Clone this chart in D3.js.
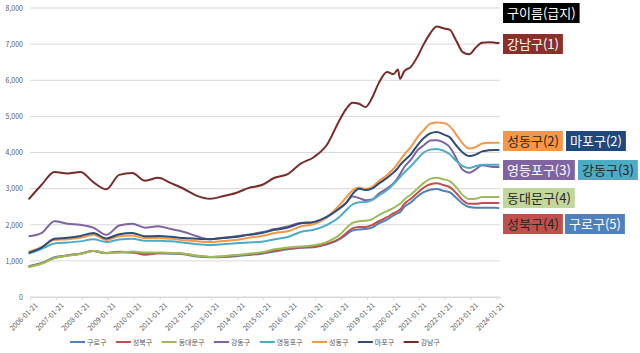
<!doctype html>
<html lang="ko">
<head>
  <meta charset="utf-8">
  <title>구별 아파트 평균가</title>
  <script src="https://d3js.org/d3.v7.min.js"></script>
  <style type="text/css">
    body { margin:0; background:#fff; }
    text { font-family:"Noto Sans CJK KR", "Noto Sans", sans-serif; }
    .grid line { stroke:#d9d9d9; stroke-width:1; }
    .axis text { fill:#595959; font-size:7px; }
    .series { fill:none; stroke-width:2; stroke-linejoin:round; }
  </style>
</head>
<body>
<script type="text/javascript">

  var dates = ["2006-01","2006-07","2007-01","2007-07","2008-01","2008-07","2009-01","2009-07",
    "2010-01","2010-07","2011-01","2011-07","2012-01","2012-07","2013-01","2013-07",
    "2014-01","2014-07","2015-01","2015-07","2016-01","2016-07","2017-01","2017-07",
    "2018-01","2018-04","2018-07","2018-10","2019-01","2019-04","2019-07","2019-11",
    "2020-02","2020-04","2020-05","2020-07","2020-10","2021-01","2021-04","2021-07","2021-10",
    "2022-01","2022-04","2022-07","2022-10","2023-01","2023-04","2023-07","2023-10",
    "2024-01","2024-03"];

  var guro = [850,940,1100,1150,1200,1270,1220,1240,1230,1210,1210,1200,1180,1120,1100,1110,
    1130,1160,1200,1260,1320,1360,1380,1450,1600,1720,1840,1870,1880,1920,2030,2140,
    2260,2320,2350,2500,2620,2780,2900,2970,2990,2940,2900,2750,2580,2490,2470,2470,2470,2470,2460];
  var seongbuk = [840,930,1080,1150,1200,1270,1210,1250,1240,1170,1210,1220,1200,1140,1110,1120,
    1150,1180,1220,1280,1340,1370,1390,1470,1620,1760,1900,1940,1940,1990,2090,2210,
    2320,2380,2420,2580,2720,2880,3030,3120,3150,3100,3040,2880,2680,2580,2580,2600,2600,2600,2600];
  var dongdaemun = [830,920,1080,1140,1190,1270,1220,1230,1260,1230,1230,1220,1200,1140,1110,1130,
    1160,1200,1240,1320,1370,1400,1430,1520,1720,1900,2050,2100,2110,2150,2260,2380,
    2470,2540,2580,2700,2840,3000,3160,3270,3300,3260,3210,3040,2820,2710,2720,2770,2770,2770,2770];
  var gangdong = [1680,1770,2100,2030,2000,1920,1720,1980,2030,1920,1960,1880,1800,1680,1600,1640,
    1680,1730,1790,1880,1950,2050,2040,2200,2470,2600,2780,2740,2680,2700,2850,3010,
    3150,3300,3400,3600,3800,4060,4200,4330,4340,4280,4150,3850,3520,3440,3530,3650,3620,3600,3600];
  var yeongdeungpo = [1200,1330,1480,1510,1540,1600,1520,1590,1610,1560,1560,1540,1500,1460,1440,1460,
    1490,1510,1530,1600,1660,1800,1860,1990,2220,2400,2560,2620,2630,2680,2800,2960,
    3130,3250,3320,3450,3620,3820,4000,4080,4100,4050,3950,3770,3620,3570,3620,3660,3660,3660,3660];
  var seongdong = [1250,1380,1580,1600,1640,1720,1580,1680,1700,1630,1630,1610,1570,1540,1520,1550,
    1580,1640,1690,1770,1820,1950,2020,2200,2550,2750,2950,3030,2990,3040,3200,3380,
    3550,3700,3780,3950,4150,4420,4620,4800,4830,4820,4730,4500,4250,4110,4150,4250,4270,4270,4270];
  var mapo = [1220,1370,1610,1640,1690,1770,1620,1740,1770,1680,1690,1670,1630,1610,1600,1630,
    1660,1720,1770,1860,1920,2040,2080,2220,2450,2600,2850,3000,2960,3000,3130,3300,
    3450,3570,3650,3780,3950,4200,4400,4530,4570,4500,4420,4200,4000,3900,3940,4030,4060,4070,4070];
  var gangnam = [2700,3100,3460,3420,3460,3180,2980,3380,3430,3220,3300,3150,2990,2800,2720,2790,
    2880,3020,3100,3300,3400,3690,3870,4200,4900,5200,5380,5350,5260,5500,5900,6230,
    6170,6300,6040,6250,6370,6650,7000,7300,7490,7440,7400,7100,6780,6720,6900,7040,7050,7040,7030];

  var names  = ["구로구","성북구","동대문구","강동구","영등포구","성동구","마포구","강남구"];
  var colors = ["#4f81bd","#c0504d","#9bbb59","#8064a2","#4bacc6","#f79646","#2c4d75","#772c2a"];
  var values = [guro, seongbuk, dongdaemun, gangdong, yeongdeungpo, seongdong, mapo, gangnam];

  var yTicks = [0,1000,2000,3000,4000,5000,6000,7000,8000];
  var xTickLabels = d3.range(2006, 2025).map(y => y + "-01-21");

  // label boxes on the right: text, fill, text colour, left, top
  var tags = [
    {t:"구이름(급지)", fill:"#000000", fg:"#ffffff", x:503, y:3},
    {t:"강남구(1)",   fill:"#8b2f2b", fg:"#ffffff", x:503, y:34},
    {t:"성동구(2)",   fill:"#f79646", fg:"#262626", x:503, y:131},
    {t:"마포구(2)",   fill:"#1f497d", fg:"#ffffff", x:566, y:131},
    {t:"영등포구(3)", fill:"#8064a2", fg:"#ffffff", x:503, y:160},
    {t:"강동구(3)",   fill:"#4bacc6", fg:"#262626", x:578, y:160},
    {t:"동대문구(4)", fill:"#c3d69b", fg:"#262626", x:503, y:188},
    {t:"성북구(4)",   fill:"#c0504d", fg:"#262626", x:503, y:214},
    {t:"구로구(5)",   fill:"#4f81bd", fg:"#ffffff", x:565, y:214}];

  var W = 640, H = 353;
  var margin = {left:30, top:8};
  var plotW = 470, plotH = 289;

  var parse = d3.timeParse("%Y-%m");
  var parseDay = d3.timeParse("%Y-%m-%d");

  var svg = d3.select("body").append("svg")
    .attr("width", W).attr("height", H)
    .style("background", "#fff");

  var g = svg.append("g").attr("transform", "translate(" + margin.left + "," + margin.top + ")");

  var xScale = d3.scaleTime()
    .domain([parseDay("2006-01-21"), parseDay("2024-03-10")])
    .range([0, plotW]);
  var yScale = d3.scaleLinear().domain([0, 8000]).range([plotH, 0]);

  // gridlines
  g.append("g").attr("class", "grid")
    .selectAll("line").data(yTicks).enter().append("line")
    .attr("x1", 0).attr("x2", plotW)
    .attr("y1", d => yScale(d)).attr("y2", d => yScale(d));

  // y axis labels
  var yAxis = d3.axisLeft(yScale).tickValues(yTicks).tickFormat(d3.format(",")).tickSize(0).tickPadding(7);
  g.append("g").attr("class", "axis").call(yAxis).call(s => s.select(".domain").remove());

  // x axis
  var xAxis = d3.axisBottom(xScale)
    .tickValues(xTickLabels.map(parseDay))
    .tickFormat(d3.timeFormat("%Y-%m-%d"))
    .tickSize(3).tickSizeOuter(0);
  var xg = g.append("g").attr("class", "axis")
    .attr("transform", "translate(0," + plotH + ")")
    .call(xAxis);
  xg.select(".domain").attr("stroke", "#d9d9d9");
  xg.selectAll(".tick line").attr("stroke", "#d9d9d9");
  xg.selectAll(".tick text")
    .attr("text-anchor", "end")
    .attr("dy", "0.3em")
    .attr("transform", "translate(2,3) rotate(-45)");

  var line = d3.line()
    .x((d, i) => xScale(parse(dates[i])))
    .y(d => yScale(d))
    .curve(d3.curveMonotoneX);

  g.selectAll(".series").data(values).enter().append("path")
    .attr("class", "series")
    .attr("stroke", (d, i) => colors[i])
    .attr("d", d => line(d));

  // legend
  var leg = svg.append("g").attr("transform", "translate(70,342)");
  var lx = 0;
  names.forEach((n, i) => {
    var it = leg.append("g").attr("transform", "translate(" + lx + ",0)");
    it.append("line").attr("x1", 0).attr("x2", 15).attr("y1", 0).attr("y2", 0)
      .attr("stroke", colors[i]).attr("stroke-width", 2);
    var t = it.append("text").attr("x", 17).attr("y", 2.5)
      .attr("fill", "#595959").style("font-size", "7px").text(n);
    lx += 17 + t.node().getComputedTextLength() + 9.5;
  });

  // label boxes
  var tg = svg.selectAll(".tag").data(tags).enter().append("g")
    .attr("class", "tag")
    .attr("transform", d => "translate(" + d.x + "," + d.y + ")");
  tg.each(function(d) {
    var s = d3.select(this);
    var r = s.append("rect").attr("height", 20).attr("fill", d.fill);
    var t = s.append("text").attr("x", 4).attr("y", 15)
      .attr("fill", d.fg).style("font-size", "13px").text(d.t);
    r.attr("width", t.node().getComputedTextLength() + 8);
  });

</script>
</body>
</html>
